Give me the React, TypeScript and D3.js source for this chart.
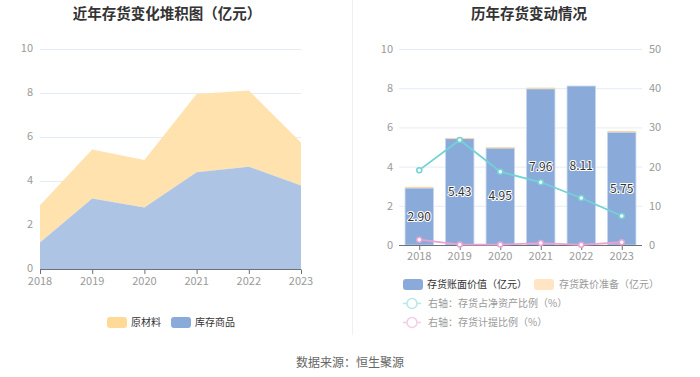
import React from "react";
import * as d3 from "d3";

const years = ["2018", "2019", "2020", "2021", "2022", "2023"];
const goods = [1.2, 3.2, 2.8, 4.4, 4.65, 3.8]; // 库存商品
const rawMat = [1.7, 2.23, 2.15, 3.56, 3.46, 1.95]; // 原材料
const bookValue = [2.9, 5.43, 4.95, 7.96, 8.11, 5.75];
const reserve = [0.04, 0.005, 0.005, 0.04, 0.0, 0.04];
const netAssetRatio = [19.1, 26.8, 18.7, 16.0, 12.0, 7.4];
const provisionRatio = [1.35, 0.1, 0.1, 0.5, 0.05, 0.7];
const leftTicks = [0, 2, 4, 6, 8, 10];
const rightTicks = [0, 10, 20, 30, 40, 50];

const FONT = "'Noto Sans CJK SC', 'Noto Sans', sans-serif";
const ORANGE = "#FFE2AE";
const ORANGE_SW = "#FFD996";
const BLUE_AREA = "#AEC4E5";
const BLUE_BAR = "#8AABDA";
const TEAL = "#72D2D6";
const PINK = "#E8A2D4";
const GRID = "#E6EBF4";
const AXIS = "#6E7079";
const LABEL = "#9A9A9A";

export default function App() {
  // Left chart
  const lx = d3.scalePoint<string>().domain(years).range([40, 301]);
  const ly = d3.scaleLinear().domain([0, 10]).range([269, 49]);
  const stacked = years.map((y, i) => ({ y, g: goods[i], t: goods[i] + rawMat[i] }));
  const areaGoods = d3
    .area<any>()
    .x((d) => lx(d.y)!)
    .y0(ly(0))
    .y1((d) => ly(d.g));
  const areaRaw = d3
    .area<any>()
    .x((d) => lx(d.y)!)
    .y0((d) => ly(d.g))
    .y1((d) => ly(d.t));

  // Right chart
  const rx = d3.scaleBand<string>().domain(years).range([399, 642]).paddingInner(0.3).paddingOuter(0.15);
  const rxc = (y: string) => rx(y)! + rx.bandwidth() / 2;
  const ryl = d3.scaleLinear().domain([0, 10]).range([245, 49]);
  const ryr = d3.scaleLinear().domain([0, 50]).range([245, 49]);
  const tealLine = d3
    .line<number>()
    .x((_, i) => rxc(years[i]))
    .y((d) => ryr(d));

  return (
    <svg width={700} height={377} style={{ position: "absolute", left: 0, top: 0 }} fontFamily={FONT}>
      <rect width={700} height={377} fill="#fff" />
      {/* divider */}
      <line x1={352.5} x2={352.5} y1={0} y2={335} stroke="#F0F0F0" strokeWidth={1} />

      {/* Left chart */}
      <text x={167} y={19} textAnchor="middle" fontSize={14.5} fontWeight="bold" fill="#333">
        近年存货变化堆积图（亿元）
      </text>
      {leftTicks.map((t) => (
        <g key={t}>
          {t > 0 && <line x1={40} x2={301} y1={ly(t) + 0.5} y2={ly(t) + 0.5} stroke={GRID} />}
          <text x={33} y={ly(t) + 3} textAnchor="end" fontSize={11} fill={LABEL}>
            {t}
          </text>
        </g>
      ))}
      <path d={areaRaw(stacked)!} fill={ORANGE} />
      <path d={areaGoods(stacked)!} fill={BLUE_AREA} />
      <line x1={40} x2={301} y1={269.5} y2={269.5} stroke={AXIS} />
      {years.map((y) => (
        <g key={y}>
          <line x1={lx(y)! + 0.5} x2={lx(y)! + 0.5} y1={269.5} y2={274} stroke={AXIS} />
          <text x={lx(y)!} y={285} textAnchor="middle" fontSize={11} fill={LABEL}>
            {y}
          </text>
        </g>
      ))}
      {/* left legend */}
      <rect x={107} y={317} width={20} height={11} rx={3} fill={ORANGE_SW} />
      <text x={131} y={326} fontSize={10} fill="#333">原材料</text>
      <rect x={171} y={317} width={20} height={11} rx={3} fill={BLUE_BAR} />
      <text x={195} y={326} fontSize={10} fill="#333">库存商品</text>

      {/* Right chart */}
      <text x={529} y={19} textAnchor="middle" fontSize={14.5} fontWeight="bold" fill="#333">
        历年存货变动情况
      </text>
      {leftTicks.map((t, i) => (
        <g key={t}>
          {t > 0 && <line x1={399} x2={642} y1={ryl(t) + 0.5} y2={ryl(t) + 0.5} stroke={GRID} />}
          <text x={393} y={ryl(t) + 4} textAnchor="end" fontSize={11} fill={LABEL}>
            {t}
          </text>
          <text x={649} y={ryr(rightTicks[i]) + 4} textAnchor="start" fontSize={11} fill={LABEL}>
            {rightTicks[i]}
          </text>
        </g>
      ))}
      {years.map((y, i) => (
        <g key={y}>
          <rect
            x={rx(y)!}
            y={ryl(bookValue[i])}
            width={rx.bandwidth()}
            height={ryl(0) - ryl(bookValue[i])}
            fill={BLUE_BAR}
            stroke="#C5D5EC"
            strokeWidth={0.8}
          />
          {reserve[i] > 0.001 && (
            <rect
              x={rx(y)!}
              y={ryl(bookValue[i] + reserve[i]) - 0.6}
              width={rx.bandwidth()}
              height={Math.max(1.2, ryl(bookValue[i]) - ryl(bookValue[i] + reserve[i]))}
              fill="#F5D9A8"
            />
          )}
        </g>
      ))}
      <line x1={399} x2={642} y1={245.5} y2={245.5} stroke={AXIS} />
      {years.map((y) => (
        <g key={y}>
          <line x1={rxc(y) + 0.5} x2={rxc(y) + 0.5} y1={245.5} y2={250} stroke={AXIS} />
          <text x={rxc(y)} y={260} textAnchor="middle" fontSize={11} fill={LABEL}>
            {y}
          </text>
        </g>
      ))}
      <path d={tealLine(netAssetRatio)!} fill="none" stroke={TEAL} strokeWidth={1.8} />
      <path d={tealLine(provisionRatio)!} fill="none" stroke={PINK} strokeWidth={1.8} />
      {years.map((y, i) => (
        <g key={y}>
          <circle cx={rxc(y)} cy={ryr(netAssetRatio[i])} r={2.5} fill="#fff" stroke={TEAL} strokeWidth={1.5} />
          <circle cx={rxc(y)} cy={ryr(provisionRatio[i])} r={2.5} fill="#fff" stroke={PINK} strokeWidth={1.5} />
        </g>
      ))}
      {years.map((y, i) => (
        <text
          key={y}
          x={rxc(y)}
          y={ryl(bookValue[i] / 2) + 4}
          textAnchor="middle"
          fontSize={12}
          fill="#333"
          stroke="#fff"
          strokeWidth={2}
          paintOrder="stroke"
          strokeLinejoin="round"
        >
          {bookValue[i].toFixed(2)}
        </text>
      ))}
      {/* right legend */}
      <rect x={403} y={279} width={20} height={11} rx={3} fill={BLUE_BAR} />
      <text x={427} y={288} fontSize={10} fill="#333">存货账面价值（亿元）</text>
      <rect x={534} y={279} width={20} height={11} rx={3} fill="#FFE5C4" />
      <text x={559} y={288} fontSize={10} fill={LABEL}>存货跌价准备（亿元）</text>
      <line x1={403} x2={421} y1={303.5} y2={303.5} stroke="#B6E8EA" strokeWidth={1.5} />
      <circle cx={412} cy={303.5} r={5} fill="#fff" stroke="#B6E8EA" strokeWidth={1.5} />
      <text x={428} y={307} fontSize={10} fill={LABEL}>右轴：存货占净资产比例（%）</text>
      <line x1={403} x2={421} y1={322.5} y2={322.5} stroke="#F2CDE8" strokeWidth={1.5} />
      <circle cx={412} cy={322.5} r={5} fill="#fff" stroke="#F2CDE8" strokeWidth={1.5} />
      <text x={428} y={326} fontSize={10} fill={LABEL}>右轴：存货计提比例（%）</text>

      <text x={350} y={367} textAnchor="middle" fontSize={12} fill="#666">
        数据来源：恒生聚源
      </text>
    </svg>
  );
}
